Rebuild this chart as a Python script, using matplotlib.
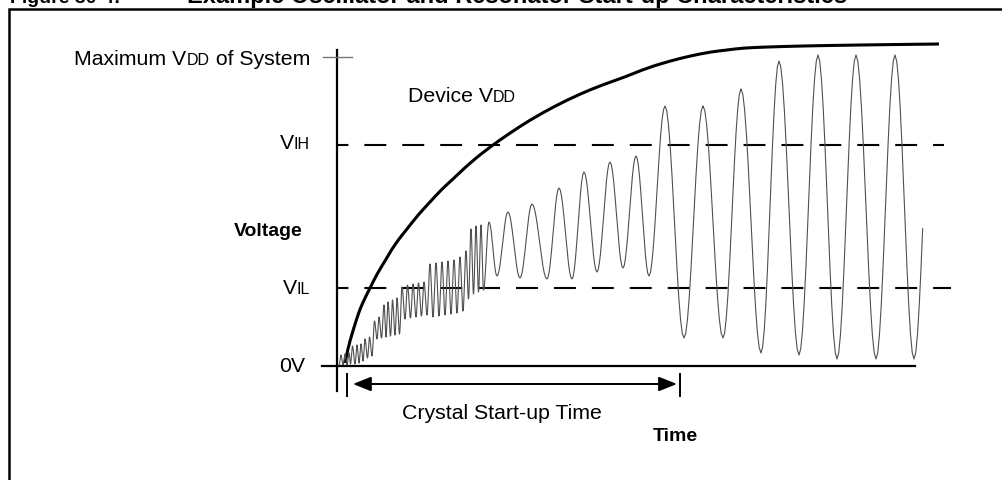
import numpy as np
import matplotlib.pyplot as plt
from matplotlib.offsetbox import TextArea, HPacker, AnnotationBbox
from matplotlib.path import Path
from matplotlib.patches import PathPatch

plt.rcParams['font.family'] = ['Liberation Sans', 'DejaVu Sans']
plt.rcParams['lines.scale_dashes'] = False

#---- voltage levels (V) and time marks (ms)
V_MAX = 3.09
V_IH = 2.21
V_IL = 0.78
CST_START = 0.10
CST_END = 3.43

#---- device VDD ramp
vddTime = [0.08, 0.11, 0.15, 0.19, 0.23, 0.28, 0.33, 0.40, 0.48, 0.58, 0.70, 0.81, 0.93,
           1.04, 1.16, 1.34, 1.53, 1.73, 1.93, 2.18, 2.43, 2.65, 2.88, 3.10, 3.33,
           3.53, 3.73, 3.90, 4.06, 4.30, 4.63, 5.20, 6.02]
vddVolts = [0.03, 0.18, 0.32, 0.45, 0.57, 0.68, 0.78, 0.92, 1.05, 1.22, 1.37, 1.51, 1.64,
            1.76, 1.87, 2.04, 2.19, 2.33, 2.46, 2.60, 2.72, 2.81, 2.89, 2.98, 3.05,
            3.10, 3.14, 3.16, 3.18, 3.19, 3.20, 3.21, 3.22]

#---- crystal oscillation, successive peaks and troughs
oscTime = [0.02, 0.04, 0.06, 0.08, 0.10, 0.12, 0.135, 0.155, 0.18, 0.20, 0.22, 0.24, 0.26,
           0.28, 0.305, 0.325, 0.35, 0.375, 0.40, 0.42, 0.445, 0.47, 0.49, 0.51, 0.535,
           0.555, 0.58, 0.60, 0.625, 0.65, 0.68, 0.705, 0.735, 0.76, 0.79, 0.815, 0.845,
           0.87, 0.90, 0.93, 0.96, 0.99, 1.02, 1.05, 1.08, 1.11, 1.14, 1.17, 1.20, 1.23,
           1.26, 1.29, 1.315, 1.34, 1.365, 1.39, 1.415, 1.44, 1.465,
           1.52, 1.60, 1.71, 1.83, 1.95, 2.10, 2.22, 2.35, 2.47, 2.60, 2.73, 2.86, 2.99,
           3.12, 3.28, 3.47, 3.66, 3.86, 4.04, 4.24, 4.42, 4.62, 4.81, 5.00, 5.19, 5.39,
           5.58, 5.77, 5.96]
oscVolts = [0.01, 0.11, 0.01, 0.12, 0.01, 0.13, 0.02, 0.20, 0.02, 0.21, 0.03, 0.22, 0.05,
            0.27, 0.08, 0.29, 0.10, 0.45, 0.27, 0.49, 0.28, 0.61, 0.29, 0.64, 0.30,
            0.66, 0.31, 0.68, 0.32, 0.79, 0.47, 0.81, 0.48, 0.82, 0.49, 0.83, 0.50,
            0.84, 0.51, 1.02, 0.49, 1.03, 0.50, 1.04, 0.51, 1.05, 0.52, 1.06, 0.53, 1.09,
            0.55, 1.15, 0.67, 1.37, 0.72, 1.40, 0.74, 1.41, 0.76,
            1.44, 0.90, 1.54, 0.88, 1.62, 0.87, 1.78, 0.87, 1.94, 0.94, 2.04, 0.98, 2.10,
            0.90, 2.60, 0.28, 2.60, 0.28, 2.77, 0.13, 3.05, 0.11, 3.11, 0.07, 3.11, 0.07,
            3.11, 0.07, 3.11]
OSC_STOP = 5.86

TITLE_NUM = 'Figure 30-4:'
TITLE_TXT = 'Example Oscillator and Resonator Start-up Characteristics'

FS = 15.3
SMALL = 11.5


def rich_label(ax, parts, xy, align, weight='normal'):
    boxes = [TextArea(s, textprops=dict(fontsize=fs, fontweight=weight, color='black'))
             for s, fs in parts]
    pack = HPacker(children=boxes, align='baseline', pad=0, sep=0)
    ab = AnnotationBbox(pack, xy, xycoords='data', box_alignment=align,
                        frameon=False, pad=0)
    ax.add_artist(ab)


fig = plt.figure(figsize=(10.03, 4.81), dpi=100)
ax = fig.add_axes([0, 0, 1, 1])
ax.set_xlim(-3.37, 6.66)
ax.set_ylim(-1.14, 3.67)
ax.axis('off')

#---- frame and title (cut at the top edge, as in the source page)
ax.plot([-3.28, -3.28, 6.66], [-1.14, 3.57, 3.57], color='black', lw=1.8,
        solid_joinstyle='miter', clip_on=False)
ax.text(-3.27, 3.635, TITLE_NUM, fontsize=14, fontweight='bold', va='baseline')
ax.text(-1.50, 3.635, TITLE_TXT, fontsize=17, fontweight='bold', va='baseline')

#---- axes lines
ax.plot([0, 0], [-0.25, 3.16], color='black', lw=1.6)
ax.plot([-0.15, 5.78], [0, 0], color='black', lw=1.6)
ax.plot([-0.14, 0.15], [V_MAX, V_MAX], color='#777777', lw=1.0)

#---- threshold lines
dash = (7.6, (15.8, 11.5))
ax.plot([0, 6.07], [V_IH, V_IH], color='black', lw=1.5, linestyle=dash)
ax.plot([0, 6.14], [V_IL, V_IL], color='black', lw=1.5, linestyle=dash)

#---- oscillation drawn as half-cosines between extrema
segT, segV = [], []
s = np.linspace(0, 1, 12)
for i in range(len(oscTime) - 1):
    t0, t1 = oscTime[i], oscTime[i + 1]
    v0, v1 = oscVolts[i], oscVolts[i + 1]
    segT.append(t0 + (t1 - t0) * s)
    segV.append(v0 + (v1 - v0) * (1 - np.cos(np.pi * s)) / 2)
oscT = np.concatenate(segT)
oscV = np.concatenate(segV)
keep = oscT <= OSC_STOP
ax.plot(oscT[keep], oscV[keep], color='#505050', lw=0.8)

#---- device VDD, smoothed with quadratic bezier through knot midpoints
pts = np.column_stack([vddTime, vddVolts])
verts = [pts[0]]
codes = [Path.MOVETO]
for i in range(1, len(pts) - 1):
    verts += [pts[i], (pts[i] + pts[i + 1]) / 2]
    codes += [Path.CURVE3, Path.CURVE3]
verts.append(pts[-1])
codes.append(Path.LINETO)
ax.add_patch(PathPatch(Path(verts, codes), facecolor='none', edgecolor='black',
                       lw=2.2, capstyle='butt'))

#---- crystal start-up time arrow
ax.plot([CST_START, CST_START], [-0.08, -0.30], color='black', lw=1.4)
ax.plot([CST_END, CST_END], [-0.08, -0.30], color='black', lw=1.4)
ax.annotate('', xy=(CST_END, -0.18), xytext=(CST_START, -0.18),
            arrowprops=dict(arrowstyle='<|-|>,head_length=0.55,head_width=0.22',
                            mutation_scale=20, color='black', lw=1.4,
                            shrinkA=4.3, shrinkB=2.2))

#---- labels
rich_label(ax, [('Maximum V', FS), ('DD', SMALL), (' of System', FS)], (-0.27, 3.07), (1, 0.5))
rich_label(ax, [('V', FS), ('IH', SMALL)], (-0.27, 2.23), (1, 0.5))
rich_label(ax, [('V', FS), ('IL', SMALL)], (-0.27, 0.78), (1, 0.5))
rich_label(ax, [('Device V', FS), ('DD', SMALL)], (0.71, 2.70), (0, 0.5))
ax.text(-0.32, 0, '0V', fontsize=FS, ha='right', va='center')
ax.text(-0.34, 1.35, 'Voltage', fontsize=14, fontweight='bold', ha='right', va='center')
ax.text(0.65, -0.465, 'Crystal Start-up Time', fontsize=FS, ha='left', va='center')
ax.text(3.16, -0.70, 'Time', fontsize=14, fontweight='bold', ha='left', va='center')

fig.savefig('out.png', dpi=100)
